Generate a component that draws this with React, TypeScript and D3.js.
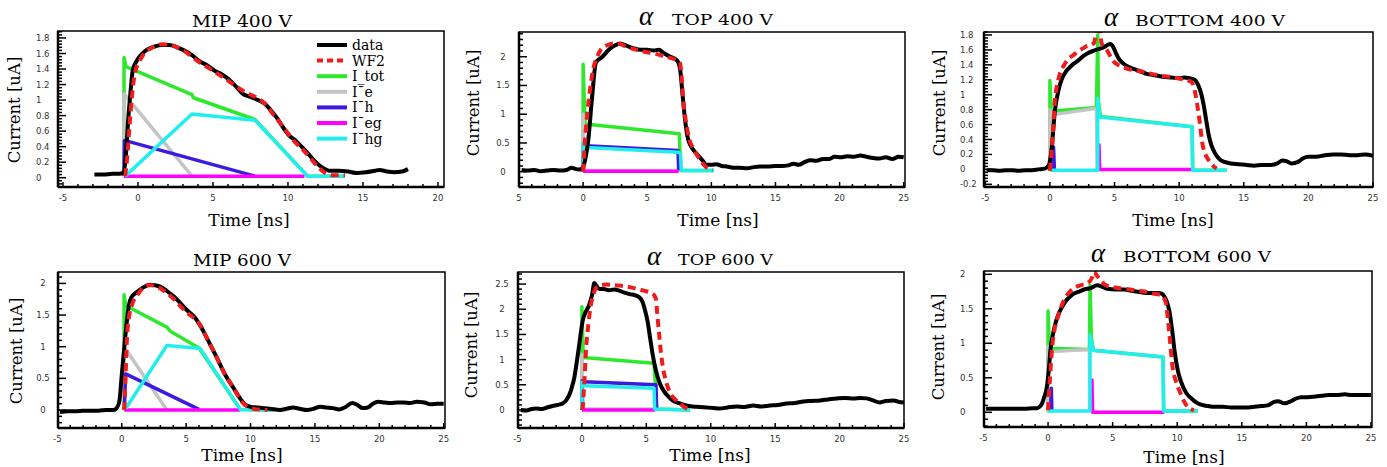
import React from 'react';
import * as d3 from 'd3';

type Pt = [number, number];

// ---------- MIP 400 V ----------
const mip400Data: Pt[] = [[-2.9,0.04],[-2.3,0.04],[-1.7,0.05],[-1.2,0.05],[-0.95,0.07],[-0.8,0.3],[-0.65,0.75],[-0.5,1.1],[-0.35,1.38],[-0.1,1.5],[0.2,1.58],[0.6,1.65],[1.1,1.69],[1.6,1.71],[2.1,1.71],[2.6,1.68],[3.1,1.64],[3.6,1.58],[4.1,1.5],[4.6,1.45],[5.1,1.38],[5.6,1.33],[6.1,1.26],[6.6,1.16],[7.0,1.08],[7.5,1.04],[8.0,1.0],[8.4,0.96],[8.9,0.86],[9.3,0.76],[9.7,0.64],[10.1,0.54],[10.5,0.48],[10.9,0.4],[11.3,0.32],[11.8,0.21],[12.3,0.13],[12.8,0.09],[13.4,0.09],[14,0.08],[14.6,0.06],[15.2,0.07],[15.8,0.09],[16.1,0.1],[16.6,0.08],[17.1,0.07],[17.6,0.08],[18,0.11]];
const mip400Wf2: Pt[] = [[-0.85,0.02],[-0.7,0.3],[-0.55,0.7],[-0.4,1.05],[-0.2,1.35],[0.1,1.5],[0.5,1.62],[1.0,1.68],[1.6,1.72],[2.2,1.71],[3.0,1.64],[4.0,1.5],[5.0,1.38],[6.0,1.25],[7.0,1.12],[8.0,1.02],[8.5,0.95],[9.0,0.82],[9.5,0.7],[10.0,0.57],[10.5,0.45],[11.0,0.36],[11.5,0.25],[12.0,0.14],[12.5,0.06],[13.0,0.03],[13.8,0.03]];
const mip400Itot: Pt[] = [[-0.93,0.02],[-0.93,1.55],[-0.8,1.43],[3.6,1.07],[3.7,1.03],[7.8,0.75],[11.3,0.02],[13.8,0.02]];
const mip400Ie: Pt[] = [[-0.93,0.02],[-0.93,1.08],[3.6,0.02]];
const mip400Ih: Pt[] = [[-0.93,0.02],[-0.9,0.48],[7.8,0.02]];
const mip400Ieg: Pt[] = [[-0.93,0.02],[11.1,0.02]];
const mip400Ihg: Pt[] = [[-0.85,0.02],[3.6,0.82],[7.8,0.74],[11.3,0.02],[13.8,0.02]];

// ---------- alpha TOP 400 V ----------
const top400Data: Pt[] = [[-4.8,0.03],[-4.3,0.02],[-3.8,0.03],[-3.3,0.01],[-2.8,0.02],[-2.3,0.03],[-1.8,0.02],[-1.3,0.03],[-0.9,0.07],[-0.6,0.05],[-0.3,0.04],[-0.05,0.06],[0.15,0.2],[0.4,0.55],[0.7,1.3],[1.0,1.9],[1.5,2.0],[2.0,2.12],[2.5,2.2],[2.9,2.23],[3.4,2.19],[3.9,2.15],[4.5,2.12],[5.0,2.12],[5.5,2.11],[5.9,2.12],[6.3,2.06],[6.8,2.0],[7.3,1.94],[7.55,1.8],[7.75,1.35],[7.95,0.9],[8.2,0.55],[8.6,0.38],[8.9,0.3],[9.3,0.2],[9.6,0.12],[10.0,0.12],[10.4,0.13],[10.8,0.1],[11.2,0.09],[11.7,0.07],[12.2,0.07],[12.8,0.06],[13.3,0.08],[13.8,0.09],[14.4,0.09],[15.0,0.1],[15.5,0.1],[16.0,0.11],[16.4,0.14],[16.8,0.12],[17.3,0.17],[17.7,0.2],[18.2,0.19],[18.7,0.22],[19.2,0.22],[19.6,0.26],[20.1,0.25],[20.6,0.27],[21.1,0.26],[21.6,0.28],[22.1,0.26],[22.6,0.24],[23.1,0.23],[23.6,0.25],[24.1,0.22],[24.6,0.26],[25,0.25]];
const top400Wf2: Pt[] = [[0,0],[0.1,0.4],[0.3,0.95],[0.55,1.45],[0.8,1.8],[1.1,2.0],[1.4,2.13],[1.7,2.18],[2.0,2.21],[2.4,2.23],[2.9,2.22],[3.4,2.17],[4.0,2.13],[4.7,2.09],[5.4,2.06],[6.0,2.03],[6.6,1.99],[7.2,1.95],[7.55,1.89],[7.7,1.6],[7.8,1.25],[8.0,0.9],[8.3,0.55],[8.6,0.4],[8.97,0.26],[9.3,0.15],[9.6,0.08],[10.1,0.03]];
const top400Itot: Pt[] = [[0,0],[0,1.87],[0.15,0.83],[7.5,0.66],[7.55,0.36],[7.65,0.02],[10.2,0.02]];
const top400Ie: Pt[] = [[0,0],[0,1.0],[0.12,0.02],[7.6,0.02]];
const top400Ih: Pt[] = [[0,0],[0.02,0.47],[0.2,0.45],[7.4,0.37],[7.45,0.02]];
const top400Ieg: Pt[] = [[0,0.01],[7.45,0.01]];
const top400Ihg: Pt[] = [[0,0.02],[0,0.5],[0.2,0.42],[7.45,0.34],[7.6,0.3],[7.65,0.02],[10.2,0.02]];

// ---------- alpha BOTTOM 400 V ----------
const bot400Data: Pt[] = [[-4.9,-0.01],[-4.4,-0.01],[-3.9,-0.02],[-3.4,-0.01],[-2.9,-0.01],[-2.4,-0.02],[-1.9,-0.01],[-1.4,-0.01],[-0.9,0.0],[-0.4,0.01],[-0.1,0.05],[0.15,0.3],[0.39,0.79],[0.65,1.05],[0.9,1.2],[1.2,1.3],[1.44,1.35],[1.8,1.41],[2.2,1.46],[2.6,1.52],[2.97,1.56],[3.4,1.59],[3.75,1.61],[4.1,1.63],[4.4,1.66],[4.65,1.68],[4.9,1.64],[5.1,1.56],[5.3,1.49],[5.6,1.43],[5.9,1.39],[6.4,1.35],[6.9,1.32],[7.5,1.28],[8.1,1.26],[8.7,1.24],[9.4,1.23],[10.0,1.22],[10.4,1.23],[10.8,1.22],[11.2,1.2],[11.45,1.14],[11.7,1.02],[11.9,0.86],[12.1,0.65],[12.3,0.45],[12.5,0.32],[12.8,0.21],[13.1,0.14],[13.5,0.1],[14.0,0.08],[14.6,0.07],[15.2,0.06],[15.8,0.05],[16.4,0.06],[17.1,0.06],[17.6,0.08],[18.0,0.12],[18.3,0.11],[18.7,0.08],[19.2,0.1],[19.6,0.15],[20.0,0.17],[20.6,0.17],[21.3,0.19],[21.9,0.2],[22.5,0.2],[23.2,0.19],[23.8,0.19],[24.4,0.2],[25,0.18]];
const bot400Wf2: Pt[] = [[0,-0.02],[0.2,0.4],[0.39,0.93],[0.65,1.2],[1.18,1.42],[1.96,1.55],[2.73,1.64],[3.4,1.69],[3.65,1.86],[3.85,1.86],[4.0,1.69],[4.4,1.6],[4.9,1.45],[5.8,1.36],[7.1,1.31],[8.4,1.26],[9.9,1.22],[10.96,1.17],[11.2,1.06],[11.5,0.75],[11.85,0.3],[12.3,0.12],[12.9,0.01]];
const bot400Itot: Pt[] = [[0,0],[0,1.19],[0.1,0.78],[3.6,0.83],[3.7,1.8],[3.75,0.93],[3.9,0.71],[11.0,0.57],[11.05,-0.01],[13.7,-0.01]];
const bot400Ie: Pt[] = [[0,0],[0,0.8],[0.13,0.73],[3.6,0.82],[3.65,-0.01]];
const bot400Ih: Pt[] = [[0.25,0],[0.28,0.3],[0.35,0]];
const bot400Ieg: Pt[] = [[3.8,0],[3.8,0.33],[3.85,0],[11.0,0]];
const bot400Ihg: Pt[] = [[0,-0.01],[3.7,-0.01],[3.7,0.95],[3.85,0.7],[11.0,0.57],[11.05,-0.01],[13.7,-0.01]];

// ---------- MIP 600 V ----------
const mip600Data: Pt[] = [[-4.8,-0.03],[-4.2,-0.02],[-3.6,-0.02],[-3.0,-0.01],[-2.4,-0.01],[-1.8,-0.01],[-1.2,0.0],[-0.65,0.0],[-0.4,0.03],[-0.2,0.12],[0.0,0.55],[0.2,1.0],[0.39,1.39],[0.55,1.65],[0.78,1.79],[1.1,1.85],[1.42,1.9],[1.8,1.95],[2.2,1.98],[2.6,1.97],[2.98,1.95],[3.5,1.88],[4.0,1.8],[4.5,1.7],[5.05,1.58],[5.6,1.48],[6.1,1.33],[6.7,1.1],[7.4,0.82],[8.0,0.57],[8.7,0.34],[9.2,0.18],[9.6,0.08],[10.0,0.05],[10.5,0.04],[11.0,0.03],[11.5,0.02],[12.3,0.0],[12.8,0.02],[13.3,0.04],[13.8,0.02],[14.4,0.0],[14.9,0.02],[15.4,0.05],[15.9,0.04],[16.4,0.03],[16.9,0.01],[17.3,0.04],[17.9,0.11],[18.3,0.08],[18.7,0.03],[19.1,0.04],[19.5,0.1],[19.9,0.13],[20.4,0.12],[20.9,0.11],[21.4,0.12],[21.9,0.12],[22.4,0.11],[22.9,0.13],[23.5,0.12],[24.0,0.09],[24.5,0.1],[25,0.1]];
const mip600Wf2: Pt[] = [[0.2,0],[0.3,0.55],[0.39,1.07],[0.55,1.45],[0.78,1.65],[1.05,1.78],[1.3,1.84],[1.6,1.92],[1.94,1.97],[2.3,1.97],[2.72,1.95],[3.3,1.88],[4.0,1.76],[4.6,1.63],[5.3,1.5],[5.8,1.42],[6.1,1.34],[6.7,1.1],[7.4,0.82],[8.0,0.57],[8.7,0.34],[9.1,0.2],[9.45,0.1],[9.8,0.05],[10.2,0.02],[11.3,0.0]];
const mip600Itot: Pt[] = [[0.18,0],[0.18,1.82],[0.3,1.65],[3.5,1.31],[3.8,1.24],[6.0,0.98],[9.2,0.01],[11.8,0.0]];
const mip600Ie: Pt[] = [[0.18,0],[0.18,1.15],[0.25,0.98],[3.5,0.0]];
const mip600Ih: Pt[] = [[0.2,0],[0.3,0.57],[6.0,0.01]];
const mip600Ieg: Pt[] = [[0.2,0.0],[9.2,0.0]];
const mip600Ihg: Pt[] = [[0.3,0.02],[3.5,1.02],[6.1,0.97],[9.2,0.01],[11.8,0.0]];

// ---------- alpha TOP 600 V ----------
const top600Data: Pt[] = [[-4.75,0.0],[-4.3,-0.01],[-3.9,0.02],[-3.58,0.03],[-3.1,0.02],[-2.7,0.05],[-2.28,0.08],[-1.9,0.1],[-1.5,0.13],[-1.2,0.2],[-0.98,0.3],[-0.8,0.43],[-0.6,0.63],[-0.4,0.95],[-0.21,1.29],[0.05,1.76],[0.3,1.95],[0.57,2.09],[0.8,2.3],[0.96,2.52],[1.14,2.46],[1.35,2.4],[1.7,2.4],[2.1,2.38],[2.5,2.39],[2.9,2.37],[3.3,2.33],[3.7,2.3],[4.1,2.28],[4.45,2.24],[4.7,2.15],[4.9,1.98],[5.1,1.76],[5.3,1.42],[5.5,1.09],[5.75,0.78],[6.0,0.56],[6.35,0.38],[6.7,0.27],[7.1,0.18],[7.6,0.13],[8.1,0.09],[8.6,0.07],[9.1,0.06],[9.65,0.05],[10.2,0.04],[10.7,0.03],[11.3,0.05],[12.0,0.07],[12.6,0.06],[13.3,0.09],[13.9,0.07],[14.6,0.09],[15.2,0.1],[15.9,0.13],[16.5,0.14],[17.2,0.17],[17.8,0.18],[18.5,0.19],[19.1,0.21],[19.8,0.23],[20.4,0.24],[21.1,0.23],[21.6,0.24],[22.1,0.23],[22.6,0.19],[23.1,0.15],[23.6,0.18],[24.2,0.19],[24.6,0.16],[25,0.15]];
const top600Wf2: Pt[] = [[0.05,0],[0.2,0.6],[0.31,1.16],[0.5,1.7],[0.7,2.09],[0.9,2.3],[1.09,2.42],[1.5,2.48],[1.87,2.49],[2.4,2.48],[2.9,2.47],[3.5,2.45],[4.2,2.41],[4.8,2.37],[5.4,2.32],[5.6,2.28],[5.75,2.2],[5.85,1.9],[6.0,1.49],[6.15,1.1],[6.3,0.83],[6.55,0.55],[6.8,0.36],[7.2,0.22],[7.6,0.13],[8.0,0.05],[8.4,0.0]];
const top600Itot: Pt[] = [[0,0],[0,2.05],[0.1,1.04],[5.6,0.93],[5.7,0.53],[5.8,0.02],[8.4,0.0]];
const top600Ie: Pt[] = [[0,0],[0,1.1],[0.1,0.02],[5.6,0.02]];
const top600Ih: Pt[] = [[0,0],[0.02,0.58],[0.18,0.56],[5.75,0.5],[5.8,0.02]];
const top600Ieg: Pt[] = [[0,0.0],[5.7,0.0]];
const top600Ihg: Pt[] = [[0,0.02],[0,0.55],[0.18,0.48],[5.6,0.43],[5.65,0.02],[8.4,0.0]];

// ---------- alpha BOTTOM 600 V ----------
const bot600Data: Pt[] = [[-4.8,0.05],[-4.2,0.05],[-3.6,0.05],[-3.0,0.05],[-2.4,0.05],[-1.8,0.05],[-1.2,0.06],[-0.84,0.06],[-0.6,0.09],[-0.46,0.13],[-0.3,0.22],[-0.11,0.35],[0.05,0.6],[0.2,0.93],[0.4,1.15],[0.6,1.31],[0.9,1.46],[1.24,1.58],[1.6,1.66],[2.0,1.72],[2.4,1.75],[2.8,1.78],[3.3,1.8],[3.8,1.84],[4.2,1.82],[4.6,1.79],[5.2,1.78],[5.9,1.78],[6.5,1.76],[7.2,1.74],[7.8,1.73],[8.5,1.73],[8.8,1.72],[9.0,1.68],[9.2,1.6],[9.4,1.46],[9.6,1.2],[9.8,0.88],[10.05,0.6],[10.3,0.44],[10.7,0.28],[11.1,0.2],[11.5,0.14],[11.85,0.11],[12.4,0.09],[12.9,0.08],[13.5,0.08],[14.2,0.07],[14.8,0.07],[15.5,0.07],[16.0,0.08],[16.5,0.09],[17.0,0.1],[17.5,0.15],[17.8,0.16],[18.3,0.13],[18.8,0.16],[19.2,0.2],[19.6,0.22],[20.1,0.22],[20.7,0.23],[21.2,0.24],[21.7,0.25],[22.3,0.25],[22.98,0.26],[23.5,0.25],[24,0.25],[24.5,0.25],[25,0.25]];
const bot600Wf2: Pt[] = [[0,0.03],[0.15,0.5],[0.33,0.97],[0.5,1.2],[0.72,1.36],[1.0,1.52],[1.24,1.63],[1.6,1.73],[2.0,1.8],[2.5,1.84],[3.05,1.87],[3.4,1.95],[3.57,2.04],[3.75,1.99],[3.96,1.94],[4.5,1.84],[5.2,1.81],[5.9,1.79],[6.7,1.77],[7.45,1.75],[8.1,1.72],[8.74,1.7],[9.1,1.6],[9.25,1.4],[9.4,1.12],[9.65,0.64],[9.9,0.45],[10.2,0.3],[10.5,0.17],[10.8,0.08],[11.3,0.03]];
const bot600Itot: Pt[] = [[0,0],[0,1.47],[0.1,0.93],[3.2,0.91],[3.25,1.84],[3.35,1.1],[3.5,0.9],[8.9,0.8],[8.95,0.02],[11.6,0.02]];
const bot600Ie: Pt[] = [[0,0],[0,0.95],[0.2,0.88],[3.2,0.91],[3.22,0.02]];
const bot600Ih: Pt[] = [[0.2,0],[0.25,0.35],[0.3,0]];
const bot600Ieg: Pt[] = [[3.4,0],[3.4,0.47],[3.45,0],[9.0,0]];
const bot600Ihg: Pt[] = [[0,0.02],[3.25,0.02],[3.25,1.12],[3.5,0.9],[8.9,0.8],[8.95,0.02],[11.6,0.02]];

// ---------- axes ----------
const mip400XTicks = [-5, 0, 5, 10, 15, 20];
const fullXTicks = [-5, 0, 5, 10, 15, 20, 25];
const top400XTickLabels = ['5', '0', '5', '10', '15', '20', '25'];
const mip400YTicks = [0, 0.2, 0.4, 0.6, 0.8, 1, 1.2, 1.4, 1.6, 1.8];
const top400YTicks = [0, 0.5, 1, 1.5, 2];
const bot400YTicks = [-0.2, 0, 0.2, 0.4, 0.6, 0.8, 1, 1.2, 1.4, 1.6, 1.8];
const mip600YTicks = [0, 0.5, 1, 1.5, 2];
const top600YTicks = [0, 0.5, 1, 1.5, 2, 2.5];
const bot600YTicks = [0, 0.5, 1, 1.5, 2];

const legendLabels = ['data', 'WF2', 'I_tot', 'I\u00afe', 'I\u00afh', 'I\u00afeg', 'I\u00afhg'];
const componentColors = ['#2ee82e', '#c4c4c4', '#3c1ae0', '#ff00ff', '#22eeee'];
const DATA_COLOR = '#000000';
const WF2_COLOR = '#ee1c1c';

const SERIF = '"DejaVu Serif", serif';
const SANS = '"DejaVu Sans", sans-serif';

type Panel = {
  id: string;
  title: string;
  alpha: boolean;
  box: { x: number; y: number; w: number; h: number };
  xDomain: [number, number];
  yDomain: [number, number];
  xTicks: number[];
  xTickLabels?: string[];
  yTicks: number[];
  yMinor: number;
  yLabelAnchor: 'start' | 'middle';
  yLabelX: number;
  titlePos: { alphaX: number; x: number; y: number; len: number };
  yTitle: { x: number; y: number };
  xTitle: { x: number; y: number };
  data: Pt[];
  wf2: Pt[];
  comps: Pt[][];
  legend?: boolean;
};

const panels: Panel[] = [
  {
    id: 'p1', title: 'MIP 400 V', alpha: false,
    box: { x: 58, y: 31, w: 386, h: 156 }, xDomain: [-5.33, 20.4], yDomain: [-0.12, 1.89],
    xTicks: mip400XTicks, yTicks: mip400YTicks, yMinor: 0.04, yLabelAnchor: 'start', yLabelX: 36,
    titlePos: { alphaX: 0, x: 192, y: 26.5, len: 100 }, yTitle: { x: 20, y: 110 }, xTitle: { x: 249, y: 226 },
    data: mip400Data, wf2: mip400Wf2, comps: [mip400Itot, mip400Ie, mip400Ih, mip400Ieg, mip400Ihg], legend: true,
  },
  {
    id: 'p2', title: 'TOP 400 V', alpha: true,
    box: { x: 519, y: 32, w: 386, h: 155 }, xDomain: [-5, 25.1], yDomain: [-0.266, 2.43],
    xTicks: fullXTicks, xTickLabels: top400XTickLabels, yTicks: top400YTicks, yMinor: 0.1, yLabelAnchor: 'middle', yLabelX: 503,
    titlePos: { alphaX: 639, x: 672, y: 25, len: 101 }, yTitle: { x: 479, y: 103 }, xTitle: { x: 718, y: 226 },
    data: top400Data, wf2: top400Wf2, comps: [top400Itot, top400Ie, top400Ih, top400Ieg, top400Ihg],
  },
  {
    id: 'p3', title: 'BOTTOM 400 V', alpha: true,
    box: { x: 984, y: 32, w: 389, h: 155 }, xDomain: [-5.1, 25], yDomain: [-0.236, 1.84],
    xTicks: fullXTicks, yTicks: bot400YTicks, yMinor: 0.04, yLabelAnchor: 'start', yLabelX: 960,
    titlePos: { alphaX: 1104, x: 1135, y: 26, len: 150 }, yTitle: { x: 945, y: 103 }, xTitle: { x: 1173, y: 226 },
    data: bot400Data, wf2: bot400Wf2, comps: [bot400Itot, bot400Ie, bot400Ih, bot400Ieg, bot400Ihg],
  },
  {
    id: 'p4', title: 'MIP 600 V', alpha: false,
    box: { x: 58, y: 272, w: 387, h: 156 }, xDomain: [-4.95, 25.1], yDomain: [-0.284, 2.18],
    xTicks: fullXTicks, yTicks: mip600YTicks, yMinor: 0.1, yLabelAnchor: 'middle', yLabelX: 43,
    titlePos: { alphaX: 0, x: 193, y: 266, len: 98 }, yTitle: { x: 22, y: 351 }, xTitle: { x: 242, y: 461 },
    data: mip600Data, wf2: mip600Wf2, comps: [mip600Itot, mip600Ie, mip600Ih, mip600Ieg, mip600Ihg],
  },
  {
    id: 'p5', title: 'TOP 600 V', alpha: true,
    box: { x: 518, y: 272, w: 386, h: 156 }, xDomain: [-4.96, 25], yDomain: [-0.358, 2.74],
    xTicks: fullXTicks, yTicks: top600YTicks, yMinor: 0.1, yLabelAnchor: 'middle', yLabelX: 502,
    titlePos: { alphaX: 647, x: 678, y: 265, len: 95 }, yTitle: { x: 477, y: 345 }, xTitle: { x: 710, y: 461 },
    data: top600Data, wf2: top600Wf2, comps: [top600Itot, top600Ie, top600Ih, top600Ieg, top600Ihg],
  },
  {
    id: 'p6', title: 'BOTTOM 600 V', alpha: true,
    box: { x: 984, y: 271, w: 388, h: 156 }, xDomain: [-4.96, 25.08], yDomain: [-0.213, 2.048],
    xTicks: fullXTicks, yTicks: bot600YTicks, yMinor: 0.1, yLabelAnchor: 'start', yLabelX: 960,
    titlePos: { alphaX: 1091, x: 1123, y: 262, len: 148 }, yTitle: { x: 944, y: 347 }, xTitle: { x: 1184, y: 463 },
    data: bot600Data, wf2: bot600Wf2, comps: [bot600Itot, bot600Ie, bot600Ih, bot600Ieg, bot600Ihg],
  },
];

function PanelView({ p }: { p: Panel }) {
  const { box } = p;
  const x = d3.scaleLinear().domain(p.xDomain).range([box.x, box.x + box.w]);
  const y = d3.scaleLinear().domain(p.yDomain).range([box.y + box.h, box.y]);
  const straight = d3.line<Pt>().x(d => x(d[0])).y(d => y(d[1]));
  const smooth = d3.line<Pt>().x(d => x(d[0])).y(d => y(d[1])).curve(d3.curveMonotoneX);

  const bottom = box.y + box.h;
  const xMinor = d3.range(Math.ceil(p.xDomain[0]), Math.floor(p.xDomain[1]) + 1);
  const yMinor = d3
    .range(Math.ceil(p.yDomain[0] / p.yMinor - 1e-6), Math.floor(p.yDomain[1] / p.yMinor + 1e-6) + 1)
    .map(i => i * p.yMinor);
  const isMajor = (v: number) => p.yTicks.some(t => Math.abs(t - v) < 1e-6);

  return (
    <g>
      <defs>
        <clipPath id={`clip-${p.id}`}>
          <rect x={box.x} y={box.y} width={box.w} height={box.h} />
        </clipPath>
      </defs>

      {/* title */}
      {p.alpha ? (
        <>
          <text x={p.titlePos.alphaX} y={p.titlePos.y} fontFamily='"Liberation Serif", serif' fontStyle="italic" fontSize={27}>α</text>
          <text x={p.titlePos.x} y={p.titlePos.y} fontFamily={SERIF} fontSize={15} textLength={p.titlePos.len} lengthAdjust="spacingAndGlyphs">{p.title}</text>
        </>
      ) : (
        <text x={p.titlePos.x} y={p.titlePos.y} fontFamily={SERIF} fontSize={17} textLength={p.titlePos.len} lengthAdjust="spacingAndGlyphs">{p.title}</text>
      )}

      {/* axis titles */}
      <text transform={`translate(${p.yTitle.x},${p.yTitle.y}) rotate(-90)`} textAnchor="middle" fontFamily={SERIF} fontSize={16.5}>Current [uA]</text>
      <text x={p.xTitle.x} y={p.xTitle.y} textAnchor="middle" fontFamily={SERIF} fontSize={17}>Time [ns]</text>

      {/* curves */}
      <g clipPath={`url(#clip-${p.id})`} fill="none" strokeLinejoin="round">
        {p.comps.map((c, i) => (
          <path key={i} d={straight(c) || ''} stroke={componentColors[i]} strokeWidth={3.5} />
        ))}
        <path d={smooth(p.data) || ''} stroke={DATA_COLOR} strokeWidth={4} />
        <path d={smooth(p.wf2) || ''} stroke={WF2_COLOR} strokeWidth={4} strokeDasharray="8,5" />
      </g>

      {/* frame */}
      <rect x={box.x} y={box.y} width={box.w} height={box.h} fill="none" stroke="#000" strokeWidth={1.5} />
      <line x1={box.x} x2={box.x} y1={box.y} y2={bottom} stroke="#000" strokeWidth={2.5} />
      <line x1={box.x} x2={box.x + box.w} y1={bottom} y2={bottom} stroke="#000" strokeWidth={2.5} />

      {/* y ticks */}
      {yMinor.map((v, i) => (
        <line key={i} x1={box.x} x2={box.x + (isMajor(v) ? 8 : 4)} y1={y(v)} y2={y(v)} stroke="#000" strokeWidth={1.5} />
      ))}
      {p.yTicks.map(v => (
        <text key={v} x={p.yLabelX} y={y(v) + 3} textAnchor={p.yLabelAnchor} fontFamily={SANS} fontSize={8.5} fill="#333">{String(v)}</text>
      ))}

      {/* x ticks */}
      {xMinor.map(v => (
        <line key={v} x1={x(v)} x2={x(v)} y1={bottom} y2={bottom - (v % 5 === 0 ? 5 : 3)} stroke="#000" strokeWidth={1.5} />
      ))}
      {p.xTicks.map((v, i) => (
        <text key={v} x={x(v)} y={bottom + 14} textAnchor="middle" fontFamily={SANS} fontSize={8.5} fill="#333">
          {p.xTickLabels ? p.xTickLabels[i] : String(v)}
        </text>
      ))}

      {p.legend && (
        <g>
          {legendLabels.map((lab, i) => {
            const ly = 45 + i * 15.6;
            const color = i === 0 ? DATA_COLOR : i === 1 ? WF2_COLOR : componentColors[i - 2];
            return (
              <g key={lab}>
                <line x1={317} x2={347} y1={ly} y2={ly} stroke={color} strokeWidth={4} strokeDasharray={i === 1 ? '6,4' : undefined} />
                <text x={352} y={ly + 5} fontFamily={SERIF} fontSize={14}>{lab}</text>
              </g>
            );
          })}
        </g>
      )}
    </g>
  );
}

export default function App() {
  return (
    <svg width={1387} height={467} style={{ position: 'absolute', left: 0, top: 0, background: '#fff' }}>
      <rect width={1387} height={467} fill="#fff" />
      {panels.map(p => (
        <PanelView key={p.id} p={p} />
      ))}
    </svg>
  );
}
